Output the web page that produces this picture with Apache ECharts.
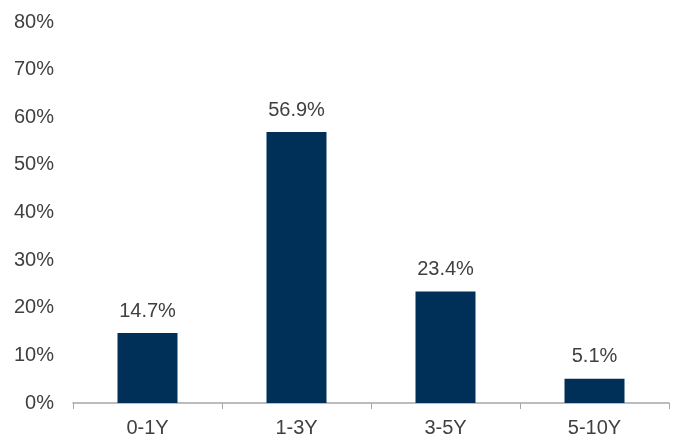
<!DOCTYPE html>
<html><head><meta charset="utf-8">
<script src="https://cdn.jsdelivr.net/npm/echarts@6/dist/echarts.min.js"></script>
<style>html,body{margin:0;padding:0;background:#fff}#c{width:675px;height:445px}</style>
</head><body><div id="c"></div>
<script>
const categories = ['0-1Y', '1-3Y', '3-5Y', '5-10Y'];
const values = [14.7, 56.9, 23.4, 5.1];
const yTicks = [0, 10, 20, 30, 40, 50, 60, 70, 80];

const chart = echarts.init(document.getElementById('c'));
chart.setOption({
  animation: false,
  grid: { left: 73, right: 6, top: 22, bottom: 42, containLabel: false },
  xAxis: {
    type: 'category', data: categories,
    axisLine: { lineStyle: { color: '#a6a6a6', width: 1.5 } },
    axisTick: { show: true, length: 6, lineStyle: { color: '#a6a6a6' } },
    axisLabel: { color: '#404040', fontSize: 20, fontFamily: 'Liberation Sans', margin: 15 }
  },
  yAxis: {
    type: 'value', min: 0, max: 80, interval: 10,
    axisLine: { show: false }, axisTick: { show: false },
    splitLine: { show: false },
    axisLabel: { color: '#404040', fontSize: 20, fontFamily: 'Liberation Sans', margin: 19,
      formatter: v => yTicks.includes(v) ? v + '%' : '' }
  },
  series: [{
    type: 'bar', data: values, barWidth: 60,
    itemStyle: { color: '#003057' },
    label: { show: true, position: 'top', distance: 12, color: '#404040', fontSize: 20,
      fontFamily: 'Liberation Sans', formatter: p => p.value.toFixed(1) + '%' }
  }]
});
</script></body></html>
